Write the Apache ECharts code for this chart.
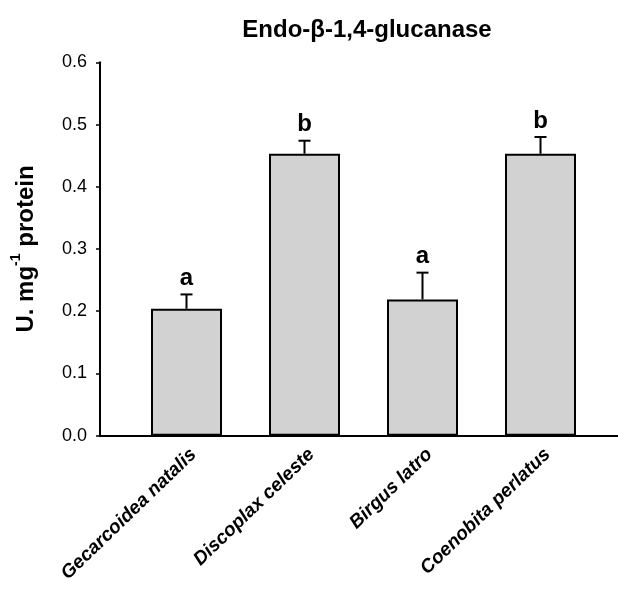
<!DOCTYPE html>
<html>
<head>
<meta charset="utf-8">
<script src="https://cdn.jsdelivr.net/npm/echarts@6/dist/echarts.min.js"></script>
<style>
  html, body { margin: 0; padding: 0; background: #fff; }
  #chart { width: 618px; height: 589px; }
</style>
</head>
<body>
<div id="chart"></div>
<script>
// Endo-β-1,4-glucanase activity per species (mean ± SE)
const species = ['Gecarcoidea natalis', 'Discoplax celeste', 'Birgus latro', 'Coenobita perlatus'];
const means = [0.204, 0.453, 0.219, 0.453];
const errors = [0.023, 0.021, 0.043, 0.027];
const groups = ['a', 'b', 'a', 'b'];
const yTicks = [0.0, 0.1, 0.2, 0.3, 0.4, 0.5, 0.6];

const FONT = 'Liberation Sans, Arial, Helvetica, sans-serif';
const chart = echarts.init(document.getElementById('chart'), null, { renderer: 'canvas' });

const plotTop = 62.3;
const plotHeight = 373.4;
const yMin = yTicks[0];
const yMax = yTicks[yTicks.length - 1];

const option = {
  backgroundColor: '#ffffff',
  animation: false,
  title: {
    text: 'Endo-β-1,4-glucanase',
    left: 362,
    top: 13,
    textAlign: 'center',
    textStyle: { fontFamily: FONT, fontWeight: 'bold', fontSize: 24, color: '#000' }
  },
  grid: [
    // bars
    { left: 127.5, width: 472, top: plotTop, height: plotHeight },
    // frame axes
    { left: 100, right: 0, top: plotTop, height: plotHeight },
    // category names, set slightly right of the bar centres
    { left: 134.5, width: 472, top: plotTop, height: plotHeight }
  ],
  xAxis: [
    {
      type: 'category',
      gridIndex: 0,
      data: species,
      axisLine: { show: false },
      axisTick: { show: false },
      axisLabel: { show: false }
    },
    {
      type: 'value',
      gridIndex: 1,
      min: 0,
      max: 1,
      axisLine: { show: true, lineStyle: { color: '#000', width: 2 } },
      axisTick: { show: false },
      axisLabel: { show: false },
      splitLine: { show: false }
    },
    {
      type: 'category',
      gridIndex: 2,
      data: species,
      axisLine: { show: false },
      axisTick: { show: false },
      axisLabel: {
        rotate: 44,
        margin: 16,
        interval: 0,
        fontFamily: FONT,
        fontWeight: 'bold',
        fontStyle: 'italic',
        fontSize: 19,
        color: '#000'
      }
    }
  ],
  yAxis: [
    { type: 'value', gridIndex: 0, min: yMin, max: yMax, show: false },
    {
      type: 'value',
      gridIndex: 1,
      min: yMin,
      max: yMax,
      interval: 0.1,
      axisLine: { show: true, lineStyle: { color: '#000', width: 2 } },
      axisTick: { show: true, inside: false, length: 4, lineStyle: { color: '#000', width: 1.5 } },
      axisLabel: {
        margin: 13,
        fontFamily: FONT,
        fontSize: 18,
        color: '#000',
        formatter: v => v.toFixed(1)
      },
      splitLine: { show: false },
      name: '{b|U. mg}{s|-1}{b| protein}',
      nameLocation: 'middle',
      nameGap: 62,
      nameTextStyle: {
        rich: {
          b: { fontFamily: FONT, fontWeight: 'bold', fontSize: 24, color: '#000', lineHeight: 29, verticalAlign: 'bottom' },
          s: { fontFamily: FONT, fontWeight: 'bold', fontSize: 14, color: '#000', lineHeight: 29, verticalAlign: 'top' }
        }
      }
    },
    { type: 'value', gridIndex: 2, min: yMin, max: yMax, show: false }
  ],
  series: [
    {
      type: 'bar',
      xAxisIndex: 0,
      yAxisIndex: 0,
      data: means,
      barWidth: 71,
      itemStyle: { color: '#d2d2d2', borderColor: '#000', borderWidth: 2 },
      z: 2
    },
    {
      // upper error whiskers with caps and group letters
      type: 'custom',
      xAxisIndex: 0,
      yAxisIndex: 0,
      data: means.map((m, i) => [i, m, m + errors[i]]),
      z: 3,
      renderItem: function (params, api) {
        const i = api.value(0);
        const base = api.coord([i, api.value(1)]);
        const top = api.coord([i, api.value(2)]);
        const capHalf = 6;
        const style = { stroke: '#000', lineWidth: 2 };
        return {
          type: 'group',
          children: [
            { type: 'line', shape: { x1: base[0], y1: base[1], x2: top[0], y2: top[1] }, style },
            { type: 'line', shape: { x1: top[0] - capHalf, y1: top[1], x2: top[0] + capHalf, y2: top[1] }, style },
            {
              type: 'text',
              style: {
                x: top[0],
                y: top[1] - 4,
                text: groups[params.dataIndex],
                align: 'center',
                verticalAlign: 'bottom',
                fontFamily: FONT,
                fontWeight: 'bold',
                fontSize: 24,
                fill: '#000'
              }
            }
          ]
        };
      }
    }
  ]
};

chart.setOption(option);
</script>
</body>
</html>
